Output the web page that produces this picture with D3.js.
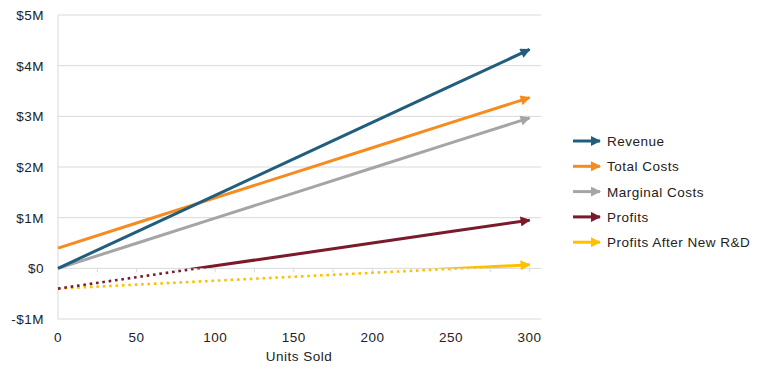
<!DOCTYPE html>
<html>
<head>
<meta charset="utf-8">
<script src="https://cdn.jsdelivr.net/npm/d3@7"></script>
<style>
  body { margin: 0; background: #fff; }
  text { font-family: "Liberation Sans", Arial, sans-serif; fill: #222; letter-spacing: 0.5px; }
</style>
</head>
<body>
<svg id="chart" width="768" height="384"></svg>
<script>
// units sold (x values)
var units = [0, 50, 100, 150, 200, 250, 300];

// series values in dollars
var revenue       = [0, 720000, 1440000, 2160000, 2880000, 3600000, 4320000];
var totalCosts    = [400000, 895000, 1390000, 1885000, 2380000, 2875000, 3370000];
var marginalCosts = [0, 495000, 990000, 1485000, 1980000, 2475000, 2970000];
var profits       = [-400000, -175000, 50000, 275000, 500000, 725000, 950000];
var profitsRD     = [-400000, -322000, -244000, -166000, -88000, -10000, 70000];

var seriesNames = ["Revenue", "Total Costs", "Marginal Costs", "Profits", "Profits After New R&D"];
var seriesColors = ["#215e7e", "#f68b1f", "#a5a5a5", "#7b1a2b", "#ffc000"];

var yTicks = [-1000000, 0, 1000000, 2000000, 3000000, 4000000, 5000000];
var yTickLabels = ["-$1M", "$0", "$1M", "$2M", "$3M", "$4M", "$5M"];
var xTicks = [0, 50, 100, 150, 200, 250, 300];
var xMinorTicks = [25, 50, 75, 100, 125, 150, 175, 200, 225, 250, 275, 300];

var allSeries = [revenue, totalCosts, marginalCosts, profits, profitsRD];

var svg = d3.select("#chart");

// plot area
var plot = {left: 58, right: 541, top: 15, bottom: 319};

var x = d3.scaleLinear().domain([0, 300]).range([plot.left, 529.6]);
var y = d3.scaleLinear().domain([-1000000, 5000000]).range([plot.bottom, plot.top]);

// arrow markers, one per colour
var defs = svg.append("defs");
seriesColors.forEach(function (c, i) {
    defs.append("marker")
        .attr("id", "arrow" + i)
        .attr("markerUnits", "userSpaceOnUse")
        .attr("viewBox", "0 0 10 10")
        .attr("refX", 9)
        .attr("refY", 5)
        .attr("markerWidth", 11)
        .attr("markerHeight", 10)
        .attr("orient", "auto")
        .append("path")
        .attr("d", "M0,0 L10,5 L0,10 Z")
        .attr("fill", c);
});

// clip regions above / below zero for the profit lines
defs.append("clipPath").attr("id", "aboveZero")
    .append("rect").attr("x", 0).attr("y", 0).attr("width", 768).attr("height", y(0));
defs.append("clipPath").attr("id", "belowZero")
    .append("rect").attr("x", 0).attr("y", y(0)).attr("width", 768).attr("height", 384 - y(0));

// horizontal gridlines
svg.append("g").selectAll("line")
    .data(yTicks)
    .enter().append("line")
    .attr("x1", plot.left).attr("x2", plot.right)
    .attr("y1", function (d) { return y(d); })
    .attr("y2", function (d) { return y(d); })
    .attr("stroke", "#d9d9d9").attr("stroke-width", 1);

// y axis line
svg.append("line")
    .attr("x1", plot.left).attr("x2", plot.left)
    .attr("y1", plot.top).attr("y2", plot.bottom)
    .attr("stroke", "#d9d9d9");

// small tick marks on the zero line
svg.append("g").selectAll("line")
    .data(xMinorTicks)
    .enter().append("line")
    .attr("x1", function (d) { return x(d); })
    .attr("x2", function (d) { return x(d); })
    .attr("y1", y(0)).attr("y2", y(0) + 4)
    .attr("stroke", "#d9d9d9");

// y tick labels
svg.append("g").selectAll("text")
    .data(yTicks)
    .enter().append("text")
    .attr("x", 44)
    .attr("y", function (d) { return y(d) + 5; })
    .attr("text-anchor", "end")
    .attr("font-size", 13.5)
    .text(function (d, i) { return yTickLabels[i]; });

// x tick labels
svg.append("g").selectAll("text")
    .data(xTicks)
    .enter().append("text")
    .attr("x", function (d) { return x(d); })
    .attr("y", 342)
    .attr("text-anchor", "middle")
    .attr("font-size", 13.5)
    .text(function (d) { return d; });

svg.append("text")
    .attr("x", 299).attr("y", 361)
    .attr("text-anchor", "middle")
    .attr("font-size", 13.5)
    .text("Units Sold");

var line = d3.line()
    .x(function (d) { return x(d[0]); })
    .y(function (d) { return y(d[1]); });

function pts(values) {
    return values.map(function (v, i) { return [units[i], v]; });
}

// plain solid lines: revenue, total costs, marginal costs (drawn back to front)
[2, 1, 0].forEach(function (i) {
    svg.append("path")
        .attr("d", line(pts(allSeries[i])))
        .attr("fill", "none")
        .attr("stroke", seriesColors[i])
        .attr("stroke-width", 3)
        .attr("marker-end", "url(#arrow" + i + ")");
});

// profit lines: dotted while negative, solid once positive
[4, 3].forEach(function (i) {
    var p = pts(allSeries[i]);
    svg.append("path")
        .attr("d", line(p))
        .attr("clip-path", "url(#belowZero)")
        .attr("fill", "none")
        .attr("stroke", seriesColors[i])
        .attr("stroke-width", 2.6)
        .attr("stroke-dasharray", "2.6 3.8");
    svg.append("path")
        .attr("d", line(p))
        .attr("clip-path", "url(#aboveZero)")
        .attr("fill", "none")
        .attr("stroke", seriesColors[i])
        .attr("stroke-width", 3);
    // arrow head drawn separately so the clip does not cut it
    svg.append("path")
        .attr("d", line(p.slice(p.length - 2)))
        .attr("fill", "none")
        .attr("stroke", "none")
        .attr("marker-end", "url(#arrow" + i + ")");
});

// legend
var legend = svg.append("g").attr("transform", "translate(573,141)");
var rows = legend.selectAll("g")
    .data(seriesNames)
    .enter().append("g")
    .attr("transform", function (d, i) { return "translate(0," + (i * 25.3) + ")"; });

rows.append("line")
    .attr("x1", 0).attr("x2", 27)
    .attr("y1", 0).attr("y2", 0)
    .attr("stroke", function (d, i) { return seriesColors[i]; })
    .attr("stroke-width", 3)
    .attr("marker-end", function (d, i) { return "url(#arrow" + i + ")"; });

rows.append("text")
    .attr("x", 34).attr("y", 5)
    .attr("font-size", 13.5)
    .text(function (d) { return d; });
</script>
</body>
</html>
